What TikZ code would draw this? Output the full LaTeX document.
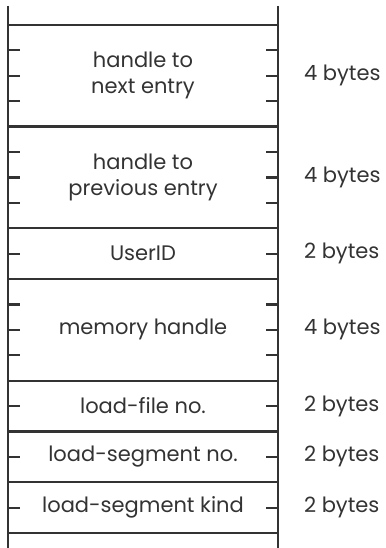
\documentclass[tikz,border=0pt]{standalone}
\usepackage{fontspec}
\setmainfont{Poppins}
\usepackage{xcolor}
\usetikzlibrary{positioning}
\definecolor{ink}{HTML}{333333}

\begin{document}
\begin{tikzpicture}[x=1pt,y=-1pt,line width=2.2pt,draw=ink,
  every node/.style={font=\fontsize{21}{26}\selectfont,text=ink},
  fieldtxt/.style={align=center,inner sep=0pt},
  sizetxt/.style={anchor=west,inner sep=0pt}]
\useasboundingbox (0,0) rectangle (385,548);
% frame
\coordinate (tl) at (8,6);
\coordinate (tr) at (278,6);
\coordinate (bl) at (8,548);
\coordinate (br) at (278,548);
\draw[ink] (tl)--(bl);
\draw[ink] (tr)--(br);
% fields: start unit / units / text
\foreach \s/\n/\txt [count=\i] in {0/4/{handle to\\next entry},4/4/{handle to\\previous entry},8/2/{UserID},10/4/{memory handle},14/2/{load-file no.},16/2/{load-segment no.},18/2/{load-segment kind}}{
  \pgfmathsetmacro{\ytop}{25+25.4*\s}
  \pgfmathsetmacro{\ymid}{25+25.4*(\s+\n/2)}
  \draw[ink] (8,\ytop)--(278,\ytop);
  \node[fieldtxt] (field\i) at (143,\ymid) {\txt};
  \node[sizetxt] (size\i) at (303,\ymid) {\n\ bytes};
  \foreach \k in {1,...,\n}{
    \ifnum\k<\n
      \pgfmathsetmacro{\yt}{25+25.4*(\s+\k)}
      \draw[ink] (8,\yt)--(20,\yt);
      \draw[ink] (266,\yt)--(278,\yt);
    \fi
  }
}
\draw[ink] (8,533)--(278,533);
\end{tikzpicture}
\end{document}
